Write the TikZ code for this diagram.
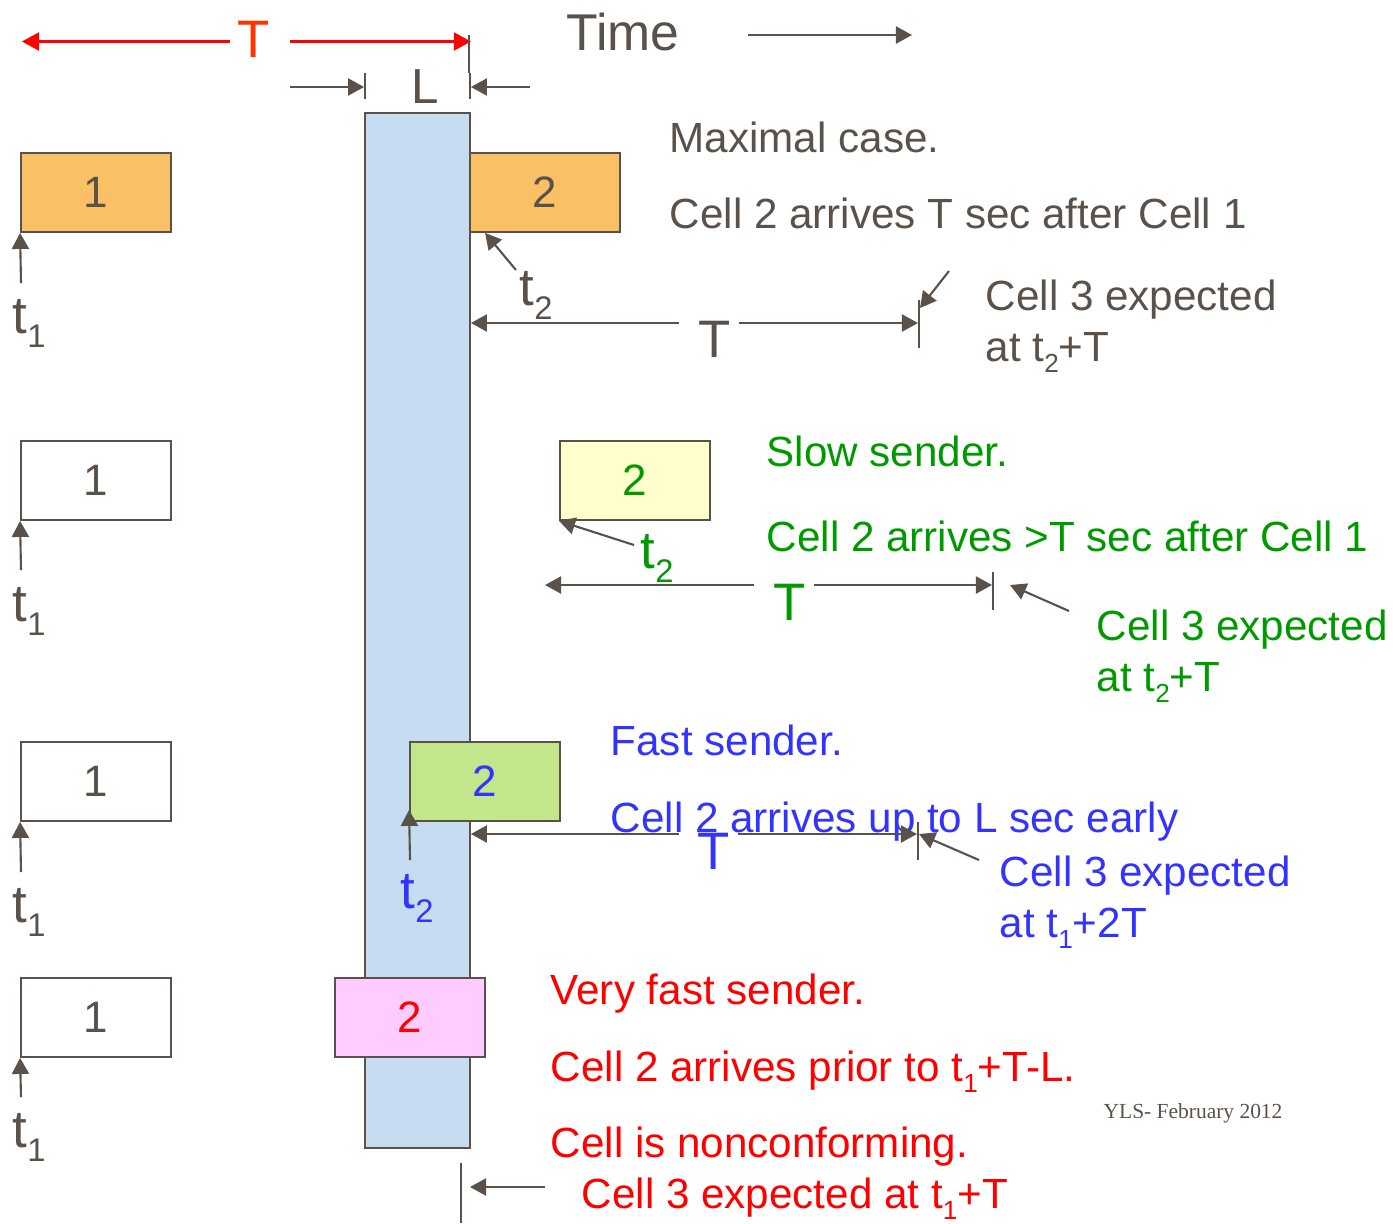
\documentclass[tikz,border=0pt]{standalone}
\usepackage{fontspec}
\setmainfont{Liberation Sans}
\newfontfamily\yls{Liberation Serif}
\usepackage{xcolor}
\usetikzlibrary{arrows.meta,positioning}
\definecolor{ink}{HTML}{5A514A}
\definecolor{bufblue}{HTML}{C6DCF0}
\definecolor{cellorange}{HTML}{F9C066}
\definecolor{slowyellow}{HTML}{FFFFCC}
\definecolor{fastgreen}{HTML}{C4E68A}
\definecolor{vfastpink}{HTML}{FFCCFF}
\definecolor{tgreen}{HTML}{009900}
\definecolor{tblue}{HTML}{3333FF}
\definecolor{tred}{HTML}{FF0000}
\definecolor{perred}{HTML}{FF3300}
\newcommand{\sbs}[1]{\raisebox{-0.28em}{\scalebox{0.62}{#1}}}

\begin{document}
\begin{tikzpicture}[x=0.01cm,y=-0.01cm,
    cellbox/.style={draw=ink, line width=0.5pt, fill=white, text=ink, minimum width=1.5cm, minimum height=0.79cm, inner sep=0pt, font=\fontsize{12.5}{15}\selectfont},
    arr/.style={draw=ink, line width=0.6pt, -{Triangle[length=1.6mm,width=1.7mm]}},
    redarr/.style={draw=tred, line width=0.6pt, -{Triangle[length=1.7mm,width=1.8mm]}},
    tick/.style={draw=ink, line width=0.5pt},
    txt/.style={anchor=base west, inner sep=0pt, font=\fontsize{12}{14}\selectfont},
    big/.style={anchor=base, inner sep=0pt, font=\fontsize{15}{18}\selectfont},
    tlab/.style={anchor=base west, inner sep=0pt, font=\fontsize{15}{18}\selectfont}]
    \useasboundingbox (0,0) rectangle (1393,1223);

    % buffer (tolerance window)
    \node (buf) [draw=ink, line width=0.5pt, fill=bufblue, minimum width=1.05cm, minimum height=10.35cm, inner sep=0pt] at (417.5,630.5) {};

    % time axis
    \node (time) [anchor=base west, inner sep=0pt, font=\fontsize{14.7}{17}\selectfont, text=ink] at (566,50) {Time};
    \coordinate (time0) at (748,35);
    \coordinate (time1) at (912,35);
    \draw[arr] (time0) -- (time1);

    % period T
    \node (perT) [big, text=perred] at (254,57) {T};
    \coordinate (perL) at (22,41.5);
    \coordinate (perLa) at (230,41.5);
    \coordinate (perRa) at (290,41.5);
    \draw[redarr] (perLa) -- (perL);
    \draw[redarr] (perRa) -- (perRa -| buf.east);
    \draw[tick] (469,35) -- (469,73);

    % tolerance L
    \node (tolL) [anchor=base, inner sep=0pt, font=\fontsize{14}{17}\selectfont, text=ink] at (425,103) {L};
    \coordinate (tolLa) at (290,87);
    \coordinate (tolRa) at (530,87);
    \draw[arr] (tolLa) -- (tolLa -| buf.west);
    \draw[arr] (tolRa) -- (tolRa -| buf.east);
    \draw[tick] (365,73) -- (365,99);
    \draw[tick] (470,73) -- (470,99);

    % maximal case
    \node (max1) [cellbox, fill=cellorange] at (96,192.5) {1};
    \node (max2) [cellbox, fill=cellorange] at (545,192.5) {2};
    \coordinate (t1max) at (21,283);
    \coordinate (t2max) at (516,270);
    \draw[arr] (t1max) -- (max1.south west);
    \draw[arr] (t2max) -- ([xshift=0.16cm]max2.south west);
    \node [tlab, text=ink] at (12,333) {t\sbs{1}};
    \node [tlab, text=ink] at (519,305) {t\sbs{2}};
    \node (Tmax) [big, text=ink] at (715,357) {T};
    \coordinate (dmaxa) at (679,323);
    \coordinate (dmaxb) at (739,323);
    \coordinate (dmaxe) at (918,323);
    \coordinate (dmaxt) at (920,308);
    \coordinate (c3max) at (949,271);
    \draw[arr] (dmaxa) -- (dmaxa -| buf.east);
    \draw[arr] (dmaxb) -- (dmaxe);
    \draw[tick] (919,300) -- (919,348);
    \draw[arr] (c3max) -- (dmaxt);
    \node [txt, text=ink] at (669,152) {Maximal case.};
    \node [txt, text=ink] at (669,228) {Cell 2 arrives T sec after Cell 1};
    \node [txt, text=ink] at (985,310) {Cell 3 expected};
    \node [txt, text=ink] at (985,361) {at t\sbs{2}+T};

    % slow sender
    \node (slow1) [cellbox] at (96,480.5) {1};
    \node (slow2) [cellbox, fill=slowyellow, text=tgreen] at (635,480.5) {2};
    \coordinate (t1slow) at (21,570);
    \coordinate (t2slow) at (634,545);
    \draw[arr] (t1slow) -- (slow1.south west);
    \draw[arr] (t2slow) -- (slow2.south west);
    \node [tlab, text=ink] at (12,621) {t\sbs{1}};
    \node [tlab, text=tgreen] at (640,568) {t\sbs{2}};
    \node (Tslow) [big, text=tgreen] at (790,620) {T};
    \coordinate (dslowa) at (754,585);
    \coordinate (dslowl) at (545,585);
    \coordinate (dslowb) at (814,585);
    \coordinate (dslowe) at (992,585);
    \coordinate (dslowt) at (1010,585);
    \coordinate (c3slow) at (1069,611);
    \draw[arr] (dslowa) -- (dslowl);
    \draw[arr] (dslowb) -- (dslowe);
    \draw[tick] (993,572) -- (993,610);
    \draw[arr] (c3slow) -- (dslowt);
    \node [txt, text=tgreen] at (766,466) {Slow sender.};
    \node [txt, text=tgreen] at (766,551) {Cell 2 arrives >T sec after Cell 1};
    \node [txt, text=tgreen] at (1096,640) {Cell 3 expected};
    \node [txt, text=tgreen] at (1096,691) {at t\sbs{2}+T};

    % fast sender
    \node (fast1) [cellbox] at (96,781.5) {1};
    \node (fast2) [cellbox, fill=fastgreen, text=tblue] at (485,781.5) {2};
    \coordinate (t1fast) at (21,872);
    \coordinate (t2fast) at (410,860);
    \draw[arr] (t1fast) -- (fast1.south west);
    \draw[arr] (t2fast) -- ([yshift=0.12cm]fast2.south west);
    \node [tlab, text=ink] at (12,922) {t\sbs{1}};
    \node [tlab, text=tblue] at (400,908) {t\sbs{2}};
    \node [txt, text=tblue] at (610,755) {Fast sender.};
    \node [txt, text=tblue] at (610,832) {Cell 2 arrives up to L sec early};
    \node (Tfast) [big, text=tblue] at (714,869) {T};
    \coordinate (dfasta) at (679,834);
    \coordinate (dfastb) at (738,834);
    \coordinate (dfaste) at (917,834);
    \coordinate (dfastt) at (919,834);
    \coordinate (c3fast) at (979,860);
    \draw[arr] (dfasta) -- (dfasta -| buf.east);
    \draw[arr] (dfastb) -- (dfaste);
    \draw[tick] (918,822) -- (918,860);
    \draw[arr] (c3fast) -- (dfastt);
    \node [txt, text=tblue] at (999,886) {Cell 3 expected};
    \node [txt, text=tblue] at (999,937) {at t\sbs{1}+2T};

    % very fast sender
    \node (vfast1) [cellbox] at (96,1017.5) {1};
    \node (vfast2) [cellbox, fill=vfastpink, text=tred] at (410,1017.5) {2};
    \coordinate (t1vfast) at (21,1097);
    \draw[arr] (t1vfast) -- (vfast1.south west);
    \node [tlab, text=ink] at (12,1147) {t\sbs{1}};
    \coordinate (c3vfast) at (545,1187);
    \coordinate (c3vfaste) at (470,1187);
    \draw[arr] (c3vfast) -- (c3vfaste);
    \draw[tick] (461,1163) -- (461,1223);
    \node [txt, text=tred] at (550,1004) {Very fast sender.};
    \node [txt, text=tred] at (550,1081) {Cell 2 arrives prior to t\sbs{1}+T-L.};
    \node [txt, text=tred] at (550,1157) {Cell is nonconforming.};
    \node [txt, text=tred] at (581,1208) {Cell 3 expected at t\sbs{1}+T};

    % footer
    \node [anchor=base west, inner sep=0pt, font=\yls\fontsize{6.1}{8}\selectfont, text=ink] at (1103,1118) {YLS- February 2012};
\end{tikzpicture}
\end{document}
